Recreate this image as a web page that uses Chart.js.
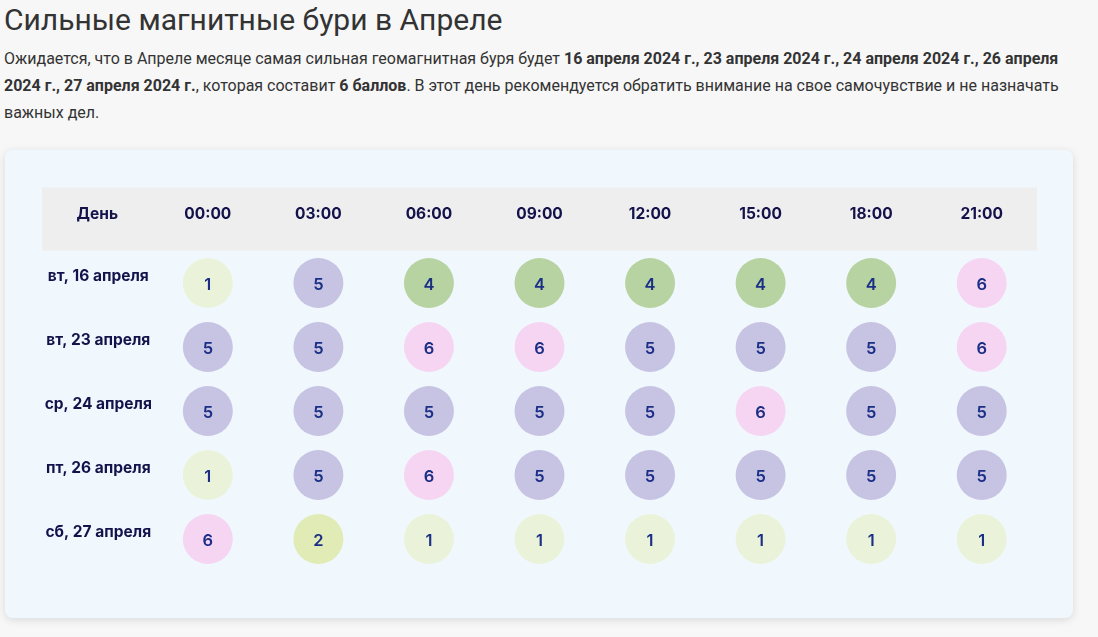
<!DOCTYPE html>
<html><head><meta charset="utf-8">
<script src="https://cdn.jsdelivr.net/npm/chart.js@4"></script>
<style>
body{margin:0;background:#f7f7f7;font-family:Roboto,sans-serif;color:#333;}
h1{position:absolute;left:4px;top:2px;margin:0;font-weight:400;font-size:30px;color:#333;font-family:Roboto,sans-serif;}
p{position:absolute;left:4px;top:45px;margin:0;width:1085px;font-size:16px;line-height:27px;}
#card{position:absolute;left:5px;top:150px;width:1068px;height:468px;background:#f0f8fe;border-radius:8px;box-shadow:0 2px 8px rgba(0,0,0,0.12);}
</style></head><body>
<h1>Сильные магнитные бури в Апреле</h1>
<p>Ожидается, что в Апреле месяце самая сильная геомагнитная буря будет <b>16 апреля 2024 г., 23 апреля 2024 г., 24 апреля 2024 г., 26 апреля 2024 г., 27 апреля 2024 г.</b>, которая составит <b>6 баллов</b>. В этот день рекомендуется обратить внимание на свое самочувствие и не назначать важных дел.</p>
<div id="card"><canvas id="c"></canvas></div>
<script>
const times=['00:00','03:00','06:00','09:00','12:00','15:00','18:00','21:00'];
const days=['вт, 16 апреля','вт, 23 апреля','ср, 24 апреля','пт, 26 апреля','сб, 27 апреля'];
const row16=[1,5,4,4,4,4,4,6];
const row23=[5,5,6,6,5,5,5,6];
const row24=[5,5,5,5,5,6,5,5];
const row26=[1,5,6,5,5,5,5,5];
const row27=[6,2,1,1,1,1,1,1];
const rows=[row16,row23,row24,row26,row27];
const colors={1:'#eaf3da',2:'#e0ebb5',3:'#cfe3b0',4:'#b7d3a2',5:'#c7c3e3',6:'#f6d5f3'};
const data=[];
rows.forEach((r,i)=>r.forEach((v,j)=>data.push({x:times[j],y:days[i],v})));
const xLabels=['День',...times];
const yLabels=['hdr',...days];
const plugin={id:'tbl',
beforeDatasetsDraw(ch){const c=ch.ctx,x=ch.scales.x,y=ch.scales.y,a=ch.chartArea;
 const h0=y.getPixelForValue(0);const rh=(y.getPixelForValue(1)-h0);
 c.save();c.fillStyle='#eeeeee';c.fillRect(a.left,h0-rh/2+0.5,a.right-a.left,rh-1);
 c.fillStyle='#14124a';c.font='bold 15.5px Inter, sans-serif';c.textAlign='center';c.textBaseline='middle';
 xLabels.forEach((l,i)=>c.fillText(l,x.getPixelForValue(i),h0-5));
 c.font='bold 15.5px Inter, sans-serif';
 days.forEach((d,i)=>c.fillText(d,x.getPixelForValue(0)+1,y.getPixelForValue(i+1)-7));
 c.restore();},
afterDatasetsDraw(ch){const c=ch.ctx,m=ch.getDatasetMeta(0);c.save();
 c.fillStyle='#1b2f86';c.font='600 16.5px Inter, sans-serif';c.textAlign='center';c.textBaseline='middle';
 m.data.forEach((p,i)=>c.fillText(String(data[i].v),p.x,p.y+2));c.restore();}};
new Chart(document.getElementById('c'),{type:'scatter',
data:{datasets:[{data:data,pointRadius:25,pointHoverRadius:25,borderWidth:0,
 backgroundColor:data.map(d=>colors[d.v])}]},
options:{responsive:true,maintainAspectRatio:false,animation:false,
 layout:{padding:{left:37,top:37,right:36,bottom:47}},
 plugins:{legend:{display:false},tooltip:{enabled:false}},
 scales:{x:{type:'category',labels:xLabels,offset:true,display:false},
  y:{type:'category',labels:yLabels,offset:true,display:false}}},
plugins:[plugin]});
</script></body></html>
